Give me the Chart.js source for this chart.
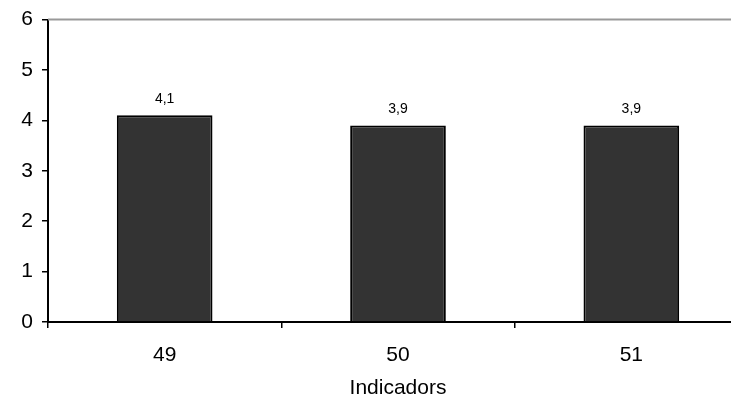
<!DOCTYPE html>
<html>
<head>
<meta charset="utf-8">
<script src="https://cdn.jsdelivr.net/npm/chart.js@4/dist/chart.umd.min.js"></script>
<style>
  html, body { margin: 0; padding: 0; background: #fff; overflow: hidden; }
  #wrap { width: 731px; height: 401px; overflow: hidden; }
</style>
</head>
<body>
<div id="wrap"><canvas id="grafic" width="748" height="401"></canvas></div>
<script>
// dades
const categories = ['49', '50', '51'];
const valors = [4.1, 3.9, 3.9];
const yTicks = [0, 1, 2, 3, 4, 5, 6];
const titolX = 'Indicadors';

const font = 'Liberation Sans, Arial, sans-serif';

// etiquetes de valor sobre les barres + linia superior grisa
const etiquetes = {
    id: 'etiquetes',
    afterDatasetsDraw(chart) {
        const c = chart.ctx;
        const area = chart.chartArea;
        c.save();
        c.strokeStyle = '#999999';
        c.lineWidth = 2;
        c.beginPath();
        c.moveTo(area.left, area.top);
        c.lineTo(chart.width, area.top);
        c.stroke();

        c.fillStyle = '#000';
        c.font = '14px ' + font;
        c.textAlign = 'center';
        c.textBaseline = 'middle';
        chart.getDatasetMeta(0).data.forEach((bar, i) => {
            c.fillText(String(valors[i]).replace('.', ','), bar.x, bar.y - 16);
        });
        c.restore();
    }
};

new Chart(document.getElementById('grafic'), {
    type: 'bar',
    data: {
        labels: categories,
        datasets: [{
            data: valors,
            backgroundColor: '#333333',
            borderColor: '#000000',
            borderWidth: 2,
            barPercentage: 0.41,
            categoryPercentage: 1
        }]
    },
    options: {
        responsive: false,
        animation: false,
        layout: { padding: { top: 17, right: 0, left: 0, bottom: 0 } },
        plugins: {
            legend: { display: false },
            tooltip: { enabled: false }
        },
        scales: {
            x: {
                grid: {
                    offset: true,
                    drawOnChartArea: false,
                    drawTicks: true,
                    tickLength: 6,
                    color: '#000',
                    lineWidth: 1.5
                },
                border: { color: '#000', width: 2 },
                ticks: {
                    color: '#000',
                    font: { family: font, size: 21 },
                    padding: 15
                },
                title: {
                    display: true,
                    text: titolX,
                    color: '#000',
                    font: { family: font, size: 21 },
                    padding: { top: 8, bottom: 0 }
                },
                afterFit(scale) { scale.height = 79; }
            },
            y: {
                min: 0,
                max: 6,
                afterBuildTicks(scale) {
                    scale.ticks = yTicks.map(v => ({ value: v }));
                },
                grid: {
                    drawOnChartArea: false,
                    drawTicks: true,
                    tickLength: 6,
                    color: '#000',
                    lineWidth: 1.5
                },
                border: { color: '#000', width: 2 },
                ticks: {
                    color: '#000',
                    font: { family: font, size: 21, lineHeight: 1 },
                    padding: 9
                },
                afterFit(scale) { scale.width = 48; }
            }
        }
    },
    plugins: [etiquetes]
});
</script>
</body>
</html>
